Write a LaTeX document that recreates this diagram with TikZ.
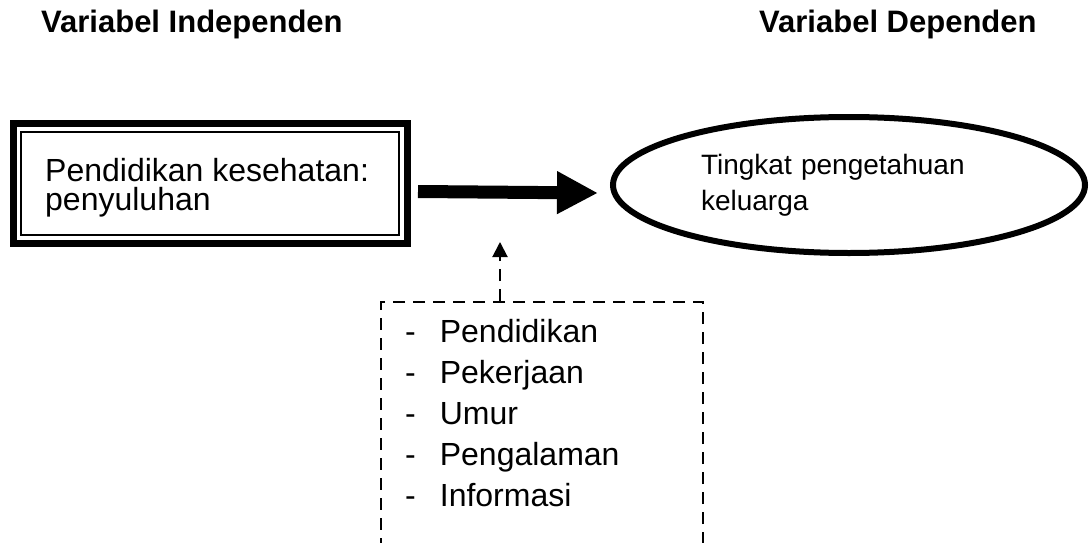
\documentclass[tikz,border=0pt]{standalone}
\usepackage{fontspec}
\setmainfont{Liberation Sans}
\usetikzlibrary{shapes.geometric,arrows.meta}
\tikzset{
  judul/.style={
    font=\bfseries\fontsize{31}{34}\selectfont,
    anchor=base west,
    inner sep=0pt
  },
  kotakluar/.style={
    draw,
    line width=7pt,
    minimum width=394pt,
    minimum height=120pt,
    inner sep=0pt
  },
  kotakdalam/.style={
    draw,
    line width=1.5pt,
    minimum width=378pt,
    minimum height=103pt,
    inner sep=0pt
  },
  teks/.style={
    anchor=base west,
    inner sep=0pt,
    align=left
  },
  oval/.style={
    ellipse,
    draw,
    line width=6pt,
    minimum width=472pt,
    minimum height=136pt,
    inner sep=0pt,
    text width=296pt,
    align=left,
    font=\fontsize{28}{36}\selectfont
  },
  faktorbox/.style={
    draw,
    dash pattern=on 12pt off 8pt,
    line width=2pt,
    minimum width=322pt,
    minimum height=300pt,
    inner sep=0pt
  },
  panah/.style={
    line width=13pt,
    -{Triangle[length=41pt 0 0,width=40pt 0 0]}
  },
  panahputus/.style={
    line width=2pt,
    dash pattern=on 12pt off 8pt,
    -{Triangle[length=15pt 0 0,width=15pt 0 0]}
  }
}

\begin{document}
\begin{tikzpicture}[x=1pt,y=-1pt]
    \useasboundingbox (0,0) rectangle (1089,543);
    \clip (0,0) rectangle (1089,543);
    % judul
    \node[judul] (indep) at (41,33) {Variabel Independen};
    \node[judul] (dep) at (759,33) {Variabel Dependen};
    % variabel independen
    \node[kotakluar] (kotak) at (210.5,183.5) {};
    \node[kotakdalam] (bingkai) at (210,183.5) {};
    \node[teks,font=\fontsize{32}{29}\selectfont] (isi) at (45,210) {Pendidikan kesehatan:\\penyuluhan};
    % variabel dependen
    \node[oval] (tingkat) at (849,185) {Tingkat pengetahuan\\keluarga};
    % faktor
    \node[faktorbox] (faktor) at (542,452) {};
    \node[teks,font=\fontsize{32}{41}\selectfont] (daftar) at (405,506)
      {-\hspace{24pt}Pendidikan\\-\hspace{24pt}Pekerjaan\\-\hspace{24pt}Umur\\-\hspace{24pt}Pengalaman\\-\hspace{24pt}Informasi};
    \coordinate (ujung) at (500,242);
    % panah
    \draw[panah] ([xshift=7pt,yshift=-8pt]kotak.east) -- ([xshift=-12pt,yshift=-8pt]tingkat.west);
    \draw[panahputus] (ujung |- faktor.north) -- (ujung);
\end{tikzpicture}
\end{document}
